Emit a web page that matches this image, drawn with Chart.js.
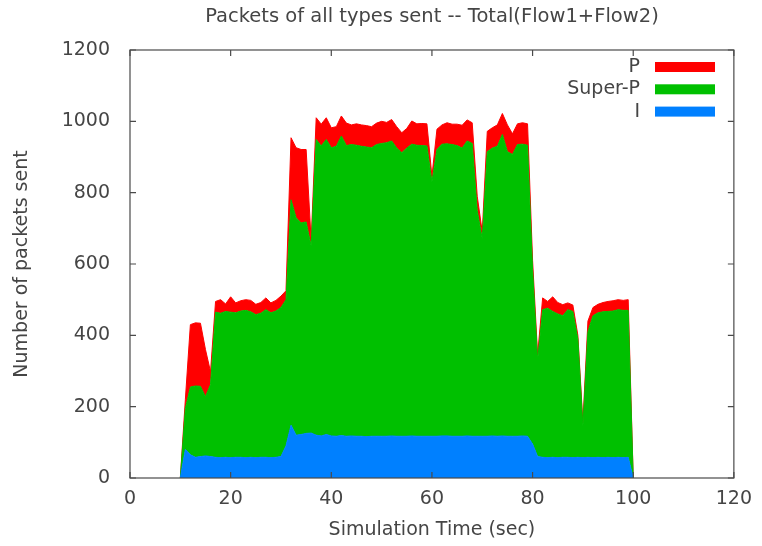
<!DOCTYPE html>
<html>
<head>
<meta charset="utf-8">
<script src="https://cdn.jsdelivr.net/npm/chart.js@4.4.1/dist/chart.umd.min.js"></script>
<style>
  html, body { margin: 0; padding: 0; background: #ffffff; }
  canvas { display: block; }
</style>
</head>
<body>
<canvas id="chart" width="762" height="546"></canvas>
<script>
// Text
const chartTitle = 'Packets of all types sent -- Total(Flow1+Flow2)';
const xAxisTitle = 'Simulation Time (sec)';
const yAxisTitle = 'Number of packets sent';

// Tick labels
const xTicks = [0, 20, 40, 60, 80, 100, 120];
const yTicks = [0, 200, 400, 600, 800, 1000, 1200];

// Simulation time, one sample per second
const seconds = [];
for (let t = 10; t <= 100; t++) seconds.push(t);

// Packets sent per second, by frame type (stacked: I at the bottom, then Super-P, then P)
const iPackets = [
  0, 80, 65, 58, 60, 62, 60, 58, 57, 58,
  57, 58, 58, 57, 58, 57, 58, 58, 57, 58,
  60, 90, 148, 120, 122, 125, 126, 120, 118, 122,
  118, 117, 119, 117, 118, 117, 117, 116, 117, 117,
  117, 117, 118, 117, 117, 117, 118, 117, 117, 117,
  117, 117, 118, 118, 117, 117, 117, 118, 117, 117,
  117, 117, 118, 117, 118, 117, 117, 117, 118, 117,
  95, 60, 58, 57, 58, 57, 58, 58, 57, 58,
  57, 58, 57, 58, 57, 58, 57, 58, 57, 58,
  0
];
const superPPackets = [
  0, 115, 190, 200, 197, 166, 202, 407, 405, 409,
  408, 405, 410, 413, 408, 401, 404, 414, 406, 410,
  418, 410, 632, 610, 593, 593, 524, 829, 813, 827,
  808, 813, 840, 815, 817, 816, 813, 812, 809, 818,
  821, 823, 827, 808, 795, 808, 818, 816, 815, 814,
  713, 804, 818, 819, 818, 815, 808, 827, 821, 633,
  553, 798, 807, 813, 845, 798, 790, 818, 818, 816,
  490, 270, 414, 419, 409, 403, 397, 414, 410, 332,
  88, 352, 398, 405, 409, 409, 411, 414, 413, 412,
  0
];
const pPackets = [
  0, 25, 175, 177, 177, 132, 36, 30, 38, 21,
  43, 28, 29, 30, 32, 29, 30, 33, 28, 30,
  32, 25, 174, 196, 206, 203, 15, 61, 61, 61,
  56, 55, 56, 63, 55, 60, 60, 60, 59, 60,
  62, 57, 60, 60, 56, 55, 65, 60, 62, 62,
  16, 57, 54, 59, 57, 60, 64, 59, 58, 40,
  20, 57, 57, 60, 59, 75, 58, 58, 60, 60,
  25, 15, 33, 19, 41, 32, 31, 19, 18, 10,
  10, 30, 23, 24, 26, 28, 29, 28, 28, 30,
  0
];

const FONT = '"DejaVu Sans", sans-serif';
const TEXT_COLOR = '#454545';
const FRAME_COLOR = '#4a4a4a';
const TEXT_SIZE = 19;

function series(values) {
  return values.map((v, i) => ({ x: seconds[i], y: v }));
}

function area(label, values, color, fill) {
  return {
    label,
    data: series(values),
    backgroundColor: color,
    borderColor: color,
    borderWidth: 1,
    pointRadius: 0,
    pointHoverRadius: 0,
    tension: 0,
    fill
  };
}

// Box border with inward ticks on all four sides, gnuplot style
const framePlugin = {
  id: 'frame',
  afterDatasetsDraw(chart) {
    const { ctx, chartArea: a, scales: { x, y } } = chart;
    const tick = 6;
    ctx.save();
    ctx.strokeStyle = FRAME_COLOR;
    ctx.lineWidth = 1.2;
    ctx.beginPath();
    y.ticks.forEach(t => {
      const py = y.getPixelForValue(t.value);
      ctx.moveTo(a.left, py); ctx.lineTo(a.left + tick, py);
      ctx.moveTo(a.right, py); ctx.lineTo(a.right - tick, py);
    });
    x.ticks.forEach(t => {
      const px = x.getPixelForValue(t.value);
      ctx.moveTo(px, a.bottom); ctx.lineTo(px, a.bottom - tick);
      ctx.moveTo(px, a.top); ctx.lineTo(px, a.top + tick);
    });
    ctx.stroke();
    ctx.strokeRect(a.left, a.top, a.right - a.left, a.bottom - a.top);
    ctx.restore();
  }
};

// Key in the top right corner: label right-aligned, then a colour bar
const keyPlugin = {
  id: 'key',
  afterDraw(chart) {
    const { ctx } = chart;
    const sets = chart.data.datasets.slice().reverse();
    ctx.save();
    ctx.font = TEXT_SIZE + 'px ' + FONT;
    ctx.textAlign = 'right';
    ctx.textBaseline = 'middle';
    sets.forEach((ds, i) => {
      const cy = 67 + i * 22.3;
      ctx.fillStyle = TEXT_COLOR;
      ctx.fillText(ds.label, 640, cy);
      ctx.fillStyle = ds.backgroundColor;
      ctx.fillRect(655, cy - 5, 60, 10);
    });
    ctx.restore();
  }
};

// Heading above the plot
const headingPlugin = {
  id: 'heading',
  afterDraw(chart) {
    const { ctx, chartArea: a } = chart;
    ctx.save();
    ctx.font = '19.5px ' + FONT;
    ctx.fillStyle = TEXT_COLOR;
    ctx.textAlign = 'center';
    ctx.textBaseline = 'middle';
    ctx.fillText(chartTitle, (a.left + a.right) / 2, 17);
    ctx.restore();
  }
};

new Chart(document.getElementById('chart'), {
  type: 'line',
  data: {
    datasets: [
      area('I', iPackets, '#0080ff', 'origin'),
      area('Super-P', superPPackets, '#00c000', '-1'),
      area('P', pPackets, '#ff0000', '-1')
    ]
  },
  options: {
    responsive: false,
    animation: false,
    events: [],
    layout: { padding: { top: 50, right: 21, bottom: 0, left: 0 } },
    plugins: {
      legend: { display: false },
      title: { display: false },
      tooltip: { enabled: false }
    },
    scales: {
      x: {
        type: 'linear',
        min: 0,
        max: 120,
        afterBuildTicks: s => { s.ticks = xTicks.map(v => ({ value: v })); },
        afterFit: s => { s.height = 68; },
        grid: { display: false, drawTicks: false },
        border: { display: false },
        ticks: {
          padding: 10,
          maxRotation: 0,
          autoSkip: false,
          color: TEXT_COLOR,
          font: { family: FONT, size: TEXT_SIZE },
          callback: v => String(v)
        },
        title: {
          display: true,
          text: xAxisTitle,
          color: TEXT_COLOR,
          font: { family: FONT, size: TEXT_SIZE },
          padding: { top: 0, bottom: 5 }
        }
      },
      y: {
        type: 'linear',
        stacked: true,
        min: 0,
        max: 1200,
        afterBuildTicks: s => { s.ticks = yTicks.map(v => ({ value: v })); },
        afterFit: s => { s.width = 130; },
        grid: { display: false, drawTicks: false },
        border: { display: false },
        ticks: {
          padding: 20,
          autoSkip: false,
          color: TEXT_COLOR,
          font: { family: FONT, size: TEXT_SIZE },
          callback: v => String(v)
        },
        title: {
          display: true,
          text: yAxisTitle,
          color: TEXT_COLOR,
          font: { family: FONT, size: TEXT_SIZE },
          padding: { top: 11, bottom: 0 }
        }
      }
    }
  },
  plugins: [framePlugin, keyPlugin, headingPlugin]
});
</script>
</body>
</html>
